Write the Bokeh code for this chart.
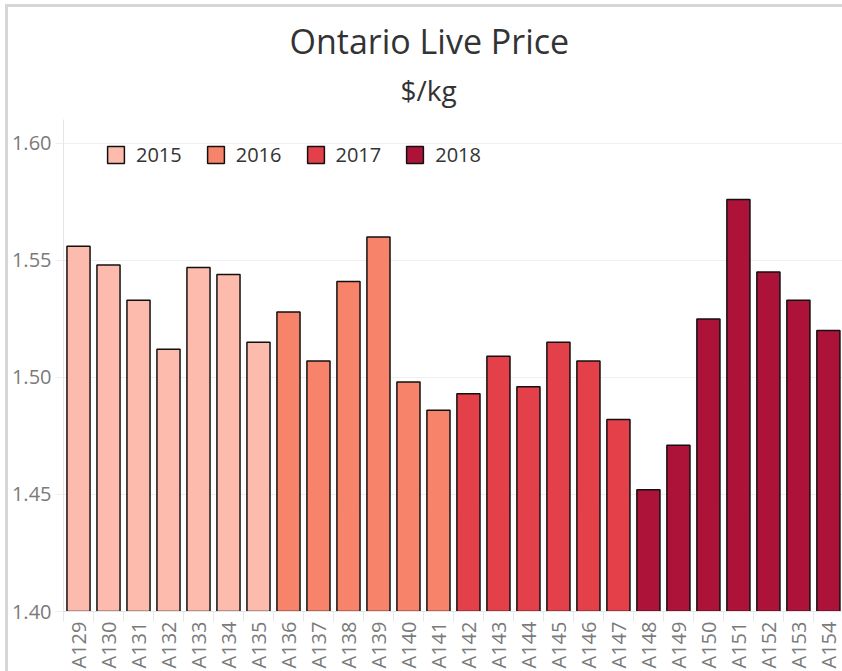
import math
from bokeh.plotting import figure
from bokeh.models import (ColumnDataSource, Range1d, FixedTicker, Title,
                          NumeralTickFormatter, InlineStyleSheet)
from bokeh.transform import factor_cmap
from bokeh.embed import file_html
from bokeh.resources import INLINE

categories = ["A129", "A130", "A131", "A132", "A133", "A134", "A135",
              "A136", "A137", "A138", "A139", "A140", "A141",
              "A142", "A143", "A144", "A145", "A146", "A147",
              "A148", "A149", "A150", "A151", "A152", "A153", "A154"]
prices = [1.556, 1.548, 1.533, 1.512, 1.547, 1.544, 1.515,
          1.528, 1.507, 1.541, 1.560, 1.498, 1.486,
          1.493, 1.509, 1.496, 1.515, 1.507, 1.482,
          1.452, 1.471, 1.525, 1.576, 1.545, 1.533, 1.520]
years = ["2015"] * 7 + ["2016"] * 6 + ["2017"] * 6 + ["2018"] * 7
year_names = ["2015", "2016", "2017", "2018"]
year_colors = ["#fdbbad", "#f8836b", "#e3404a", "#ad1339"]
y_ticks = [1.40, 1.45, 1.50, 1.55, 1.60]

FONT = "Open Sans"

xpos = [i + 0.5 for i in range(len(categories))]
src = ColumnDataSource(dict(x=xpos, cat=categories, price=prices, year=years))

p = figure(width=842, height=671, x_range=Range1d(0, 25.97), y_range=Range1d(1.40, 1.6102),
           output_backend="svg", toolbar_location=None,
           min_border_left=63, min_border_right=0, min_border_top=119, min_border_bottom=59)
p.outline_line_color = None
p.background_fill_color = "white"
p.border_fill_alpha = 0

p.vbar(x="x", top="price", bottom=0, width=0.77, source=src,
       fill_color=factor_cmap("year", year_colors, year_names),
       line_color="#111111", line_width=1.5, legend_group="year")

# y axis
p.yaxis.ticker = FixedTicker(ticks=y_ticks)
p.yaxis.formatter = NumeralTickFormatter(format="0.00")
p.yaxis.axis_line_color = "#e4e4e4"
p.yaxis.major_tick_out = 8
p.yaxis.major_tick_in = 0
p.yaxis.major_tick_line_color = "#efefef"
p.yaxis.minor_tick_line_color = None
p.yaxis.major_label_standoff = 4
p.yaxis.major_label_text_font = FONT
p.yaxis.major_label_text_font_size = "20px"
p.yaxis.major_label_text_color = "#7a7a7a"

p.ygrid.ticker = FixedTicker(ticks=y_ticks)
p.ygrid.grid_line_color = "#efefef"
p.xgrid.visible = False

# x axis
p.xaxis.ticker = FixedTicker(ticks=xpos, minor_ticks=list(range(len(categories) + 1)))
p.xaxis.major_label_overrides = {x: c for x, c in zip(xpos, categories)}
p.xaxis.major_label_orientation = math.pi / 2
p.xaxis.axis_line_color = "#e4e4e4"
p.xaxis.major_tick_out = 0
p.xaxis.major_tick_in = 0
p.xaxis.minor_tick_out = 10
p.xaxis.minor_tick_in = 0
p.xaxis.minor_tick_line_color = "#e8e8e8"
p.xaxis.major_label_standoff = 0
p.xaxis.major_label_text_font = FONT
p.xaxis.major_label_text_font_size = "20px"
p.xaxis.major_label_text_color = "#7a7a7a"

# legend
lg = p.legend[0]
lg.orientation = "horizontal"
lg.location = (42, 443)
lg.background_fill_alpha = 0
lg.border_line_alpha = 0
lg.padding = 0
lg.margin = 0
lg.spacing = 23
lg.glyph_width = 21
lg.glyph_height = 21
lg.label_standoff = 10
lg.label_text_font = FONT
lg.label_text_font_size = "20px"
lg.label_text_color = "#333333"
lg.label_height = 21

# titles (subtitle first: closest to the frame)
p.add_layout(Title(text="$/kg", align="left", offset=337, standoff=21,
                   text_font=FONT, text_font_size="28px", text_font_style="normal",
                   text_color="#333333"), "above")
p.add_layout(Title(text="Ontario Live Price", align="left", offset=226, standoff=-11,
                   text_font=FONT, text_font_size="34px", text_font_style="normal",
                   text_color="#333333"), "above")

# light grey dashboard frame lines (top and left), painted behind the transparent border
p.stylesheets = [InlineStyleSheet(css="""
:host {
  background-color: white;
  background-image: linear-gradient(#d6d6d6, #d6d6d6), linear-gradient(#d6d6d6, #d6d6d6);
  background-repeat: no-repeat, no-repeat;
  background-position: 5px 4px, 5px 4px;
  background-size: 837px 3px, 3px 667px;
}
""")]

open("out.html", "w").write(file_html(p, INLINE))
